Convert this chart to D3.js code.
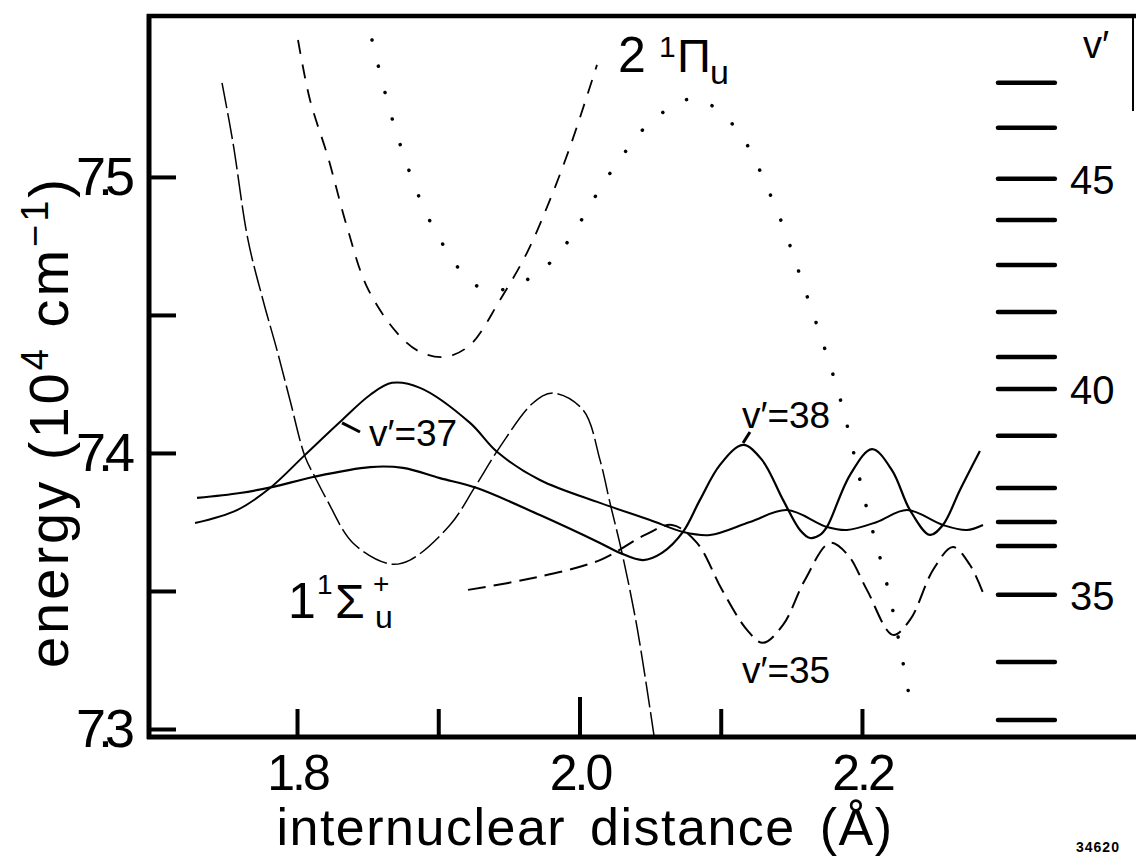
<!DOCTYPE html>
<html>
<head>
<meta charset="utf-8">
<script src="https://cdnjs.cloudflare.com/ajax/libs/d3/7.8.5/d3.min.js"></script>
<style>
    body { margin: 0; background: #fff; }
    svg text { font-family: "Liberation Sans", Arial, sans-serif; fill: #000; }
    .curve { fill: none; stroke: #000; }
    .axis line { stroke: #000; stroke-width: 4; }
</style>
</head>
<body>
<div id="plot"></div>
<script>
// values: [r (angstrom), energy (10^4 cm-1)]
var piU = [[1.8007,7.5496],[1.8092,7.5279],[1.8219,7.5072],[1.8354,7.4819],[1.8496,7.4601],[1.8708,7.4435],
    [1.8871,7.4366],[1.9048,7.4348],[1.9225,7.4391],[1.9437,7.4554],[1.9628,7.4725],[1.9791,7.4917],
    [1.9933,7.5109],[2.0060,7.5304],[2.0124,7.5406]];

var dotted = [[1.8531,7.5496],[1.8715,7.5141],[1.8970,7.4812],[1.9260,7.4609],[1.9451,7.4591],[1.9798,7.4692],
    [2.0223,7.5018],[2.0506,7.5199],[2.0811,7.5283],[2.1094,7.5185],[2.1370,7.4913],[2.1596,7.4591],
    [2.1844,7.4199],[2.2035,7.3797],[2.2198,7.3478],[2.2354,7.3062]];

var longDash = [[1.7469,7.5341],[1.7547,7.5123],[1.7653,7.4772],[1.7759,7.4554],[1.7858,7.4373],[1.7950,7.4192],
    [1.8057,7.3986],[1.8127,7.3913],[1.8212,7.3830],[1.8396,7.3674],[1.8658,7.3598],[1.8800,7.3612],
    [1.9083,7.3739],[1.9260,7.3877],[1.9437,7.4022],[1.9671,7.4181],[1.9812,7.4217],[2.0025,7.4156],
    [2.0145,7.3975],[2.0216,7.3819],[2.0301,7.3638],[2.0407,7.3370],[2.0527,7.2978]];

var wave35 = [[1.9211,7.3504],[1.9671,7.3547],[2.0145,7.3612],[2.0464,7.3703],[2.0655,7.3739],[2.0832,7.3674],
    [2.1009,7.3504],[2.1186,7.3359],[2.1299,7.3312],[2.1441,7.3377],[2.1596,7.3540],[2.1773,7.3674],
    [2.1901,7.3630],[2.2035,7.3504],[2.2219,7.3341],[2.2340,7.3395],[2.2503,7.3576],[2.2644,7.3659],
    [2.2765,7.3594],[2.2857,7.3493]];

var wave37 = [[1.7278,7.3746],[1.7575,7.3793],[1.7809,7.3873],[1.8057,7.3993],[1.8304,7.4112],[1.8517,7.4210],
    [1.8673,7.4254],[1.8871,7.4236],[1.9225,7.4109],[1.9416,7.4004],[1.9720,7.3902],[2.0145,7.3819],
    [2.0499,7.3757],[2.0733,7.3714],[2.0924,7.3703],[2.1207,7.3750],[2.1469,7.3793],[2.1752,7.3732],
    [2.1894,7.3721],[2.2106,7.3750],[2.2319,7.3793],[2.2573,7.3739],[2.2743,7.3721],[2.2857,7.3739]];

var wave38 = [[1.7292,7.3837],[1.7596,7.3855],[1.7830,7.3877],[1.8113,7.3913],[1.8517,7.3949],[1.8750,7.3946],
    [1.9012,7.3909],[1.9274,7.3873],[1.9720,7.3775],[2.0145,7.3674],[2.0287,7.3638],[2.0450,7.3612],
    [2.0584,7.3638],[2.0733,7.3714],[2.0853,7.3830],[2.0995,7.3957],[2.1158,7.4029],[2.1292,7.3975],
    [2.1441,7.3830],[2.1561,7.3721],[2.1632,7.3692],[2.1703,7.3703],[2.1752,7.3732],[2.1915,7.3920],
    [2.2071,7.4014],[2.2212,7.3938],[2.2340,7.3793],[2.2481,7.3703],[2.2573,7.3739],[2.2694,7.3866],
    [2.2835,7.4007]];

// vibrational levels v' = 33 ... 47 on the right
var levelV = [33,34,35,36,37,38,39,40,41,42,43,44,45,46,47];
var levelE = [7.3033,7.3243,7.3486,7.3663,7.3750,7.3873,7.4062,7.4232,7.4348,7.4511,7.4681,7.4844,7.4993,7.5178,7.5341];
var levelLabelled = [35,40,45];
var levelR = [2.2963,2.3366];

// axis ticks
var xTicks = [1.8,1.9,2.0,2.1,2.2];
var xTickLabels = ["1.8","","2.0","","2.2"];
var yTicks = [7.3,7.35,7.4,7.45,7.5];
var yTickLabels = ["7.3","","7.4","","7.5"];

var margin = {t: 16, l: 149};
var width = 984, height = 721;

var svg = d3.select('#plot')
    .append('svg')
    .attr('width', 1136)
    .attr('height', 856);

var plot = svg.append('g').attr('transform', 'translate(' + margin.l + ',' + margin.t + ')');

var scaleX = d3.scaleLinear().domain([1.6952, 2.3919]).range([0, width]);
var scaleY = d3.scaleLinear().domain([7.2971, 7.5583]).range([height, 0]);

// axes, ticks pointing inward
var axisX = d3.axisBottom(scaleX).tickValues(xTicks).tickSize(-28).tickPadding(17)
    .tickFormat(function(d, i) { return xTickLabels[i]; });
var axisY = d3.axisLeft(scaleY).tickValues(yTicks).tickSize(-27).tickPadding(22)
    .tickFormat(function(d, i) { return yTickLabels[i]; });

var gx = plot.append('g').attr('class', 'axis').attr('transform', 'translate(0,' + height + ')').call(axisX);
var gy = plot.append('g').attr('class', 'axis').call(axisY);
gx.select('.domain').remove();
gy.select('.domain').remove();

gx.selectAll('text').style('font-size', '50px').style('letter-spacing', '-3px');
gy.selectAll('text').style('font-size', '54px').style('letter-spacing', '-8px');
// the 2.0 tick is drawn longer
gx.selectAll('.tick').filter(function(d) { return d === 2.0; }).select('line').attr('y2', -40);

// frame
plot.append('line').attr('x1', 0).attr('x2', 0).attr('y1', -2).attr('y2', height + 2)
    .attr('stroke', '#000').attr('stroke-width', 5);
plot.append('line').attr('x1', -2).attr('x2', width + 4).attr('y1', 0).attr('y2', 0)
    .attr('stroke', '#000').attr('stroke-width', 4.5);
plot.append('line').attr('x1', -2).attr('x2', width + 4).attr('y1', height).attr('y2', height)
    .attr('stroke', '#000').attr('stroke-width', 5);
plot.append('line').attr('x1', width).attr('x2', width).attr('y1', 0).attr('y2', 95)
    .attr('stroke', '#000').attr('stroke-width', 2);

// curves
var line = d3.line()
    .x(function(d) { return scaleX(d[0]); })
    .y(function(d) { return scaleY(d[1]); })
    .curve(d3.curveCatmullRom.alpha(0.5));

var curves = plot.append('g').attr('class', 'curves');

curves.append('path').datum(piU).attr('class', 'curve').attr('d', line)
    .attr('stroke-width', 1.8).attr('stroke-dasharray', '14,11');
curves.append('path').datum(dotted).attr('class', 'curve').attr('d', line)
    .attr('stroke-width', 3.5).attr('stroke-linecap', 'round').attr('stroke-dasharray', '0.1,27');
curves.append('path').datum(longDash).attr('class', 'curve').attr('d', line)
    .attr('stroke-width', 1.5).attr('stroke-dasharray', '26,5');
curves.append('path').datum(wave35).attr('class', 'curve').attr('d', line)
    .attr('stroke-width', 2).attr('stroke-dasharray', '18,8');
curves.append('path').datum(wave37).attr('class', 'curve').attr('d', line)
    .attr('stroke-width', 2);
curves.append('path').datum(wave38).attr('class', 'curve').attr('d', line)
    .attr('stroke-width', 2.2);

// pointers from the v' labels
var pointers = [[[1.8319,7.4109],[1.8446,7.4076]], [[2.1158,7.4036],[2.1207,7.4076]]];
curves.selectAll('.pointer')
    .data(pointers)
    .enter()
    .append('line')
    .attr('class', 'pointer')
    .attr('x1', function(d) { return scaleX(d[0][0]); })
    .attr('y1', function(d) { return scaleY(d[0][1]); })
    .attr('x2', function(d) { return scaleX(d[1][0]); })
    .attr('y2', function(d) { return scaleY(d[1][1]); })
    .attr('stroke', '#000').attr('stroke-width', 3);

// vibrational level ladder
var levels = levelV.map(function(v, i) { return {v: v, e: levelE[i]}; });
plot.append('g').selectAll('line')
    .data(levels)
    .enter()
    .append('line')
    .attr('x1', scaleX(levelR[0]))
    .attr('x2', scaleX(levelR[1]))
    .attr('y1', function(d) { return scaleY(d.e); })
    .attr('y2', function(d) { return scaleY(d.e); })
    .attr('stroke', '#000').attr('stroke-width', 4.5).attr('stroke-linecap', 'round');

plot.append('g').selectAll('text')
    .data(levels.filter(function(d) { return levelLabelled.indexOf(d.v) >= 0; }))
    .enter()
    .append('text')
    .attr('x', scaleX(levelR[1]) + 15)
    .attr('y', function(d) { return scaleY(d.e) + 15; })
    .style('font-size', '40px')
    .text(function(d) { return d.v; });

svg.append('text').attr('x', 1083).attr('y', 58).style('font-size', '38px').text('v′');

// wavefunction labels
var waveLabels = [{t: 'v′=37', x: 369, y: 446}, {t: 'v′=38', x: 742, y: 428}, {t: 'v′=35', x: 742, y: 683}];
svg.selectAll('.wlabel')
    .data(waveLabels)
    .enter()
    .append('text')
    .attr('class', 'wlabel')
    .attr('x', function(d) { return d.x; })
    .attr('y', function(d) { return d.y; })
    .style('font-size', '37px')
    .text(function(d) { return d.t; });

// state labels
var pi = svg.append('g').attr('transform', 'translate(618,72)');
pi.append('text').attr('x', 0).attr('y', 0).style('font-size', '50px').text('2');
pi.append('text').attr('x', 41).attr('y', -15).style('font-size', '30px').text('1');
pi.append('text').attr('x', 59).attr('y', 0).style('font-size', '47px').text('Π');
pi.append('text').attr('x', 92).attr('y', 12).style('font-size', '34px').text('u');

var sigma = svg.append('g').attr('transform', 'translate(293,618)');
sigma.append('text').attr('x', -5).attr('y', 0).style('font-size', '50px').text('1');
sigma.append('text').attr('x', 24).attr('y', -24).style('font-size', '28px').text('1');
sigma.append('text').attr('x', 42).attr('y', 0).style('font-size', '48px').text('Σ');
sigma.append('text').attr('x', 80).attr('y', -25).style('font-size', '28px').text('+');
sigma.append('text').attr('x', 82).attr('y', 10).style('font-size', '32px').text('u');

// axis titles
var yTitle = svg.append('text')
    .attr('transform', 'translate(68,422) rotate(-90)')
    .attr('text-anchor', 'middle')
    .style('font-size', '56px')
    .style('letter-spacing', '3px');
yTitle.append('tspan').text('energy (10');
yTitle.append('tspan').attr('dy', -20).style('font-size', '38px').text('4');
yTitle.append('tspan').attr('dy', 20).text(' cm');
yTitle.append('tspan').attr('dy', -20).style('font-size', '38px').text('−1');
yTitle.append('tspan').attr('dy', 20).text(')');

svg.append('text')
    .attr('x', 585).attr('y', 845)
    .attr('text-anchor', 'middle')
    .style('font-size', '52px')
    .style('letter-spacing', '1.5px')
    .style('word-spacing', '8px')
    .text('internuclear distance (Å)');

svg.append('text')
    .attr('x', 1076).attr('y', 852)
    .style('font-size', '14px').style('font-weight', 'bold').style('letter-spacing', '1px')
    .text('34620');
</script>
</body>
</html>
